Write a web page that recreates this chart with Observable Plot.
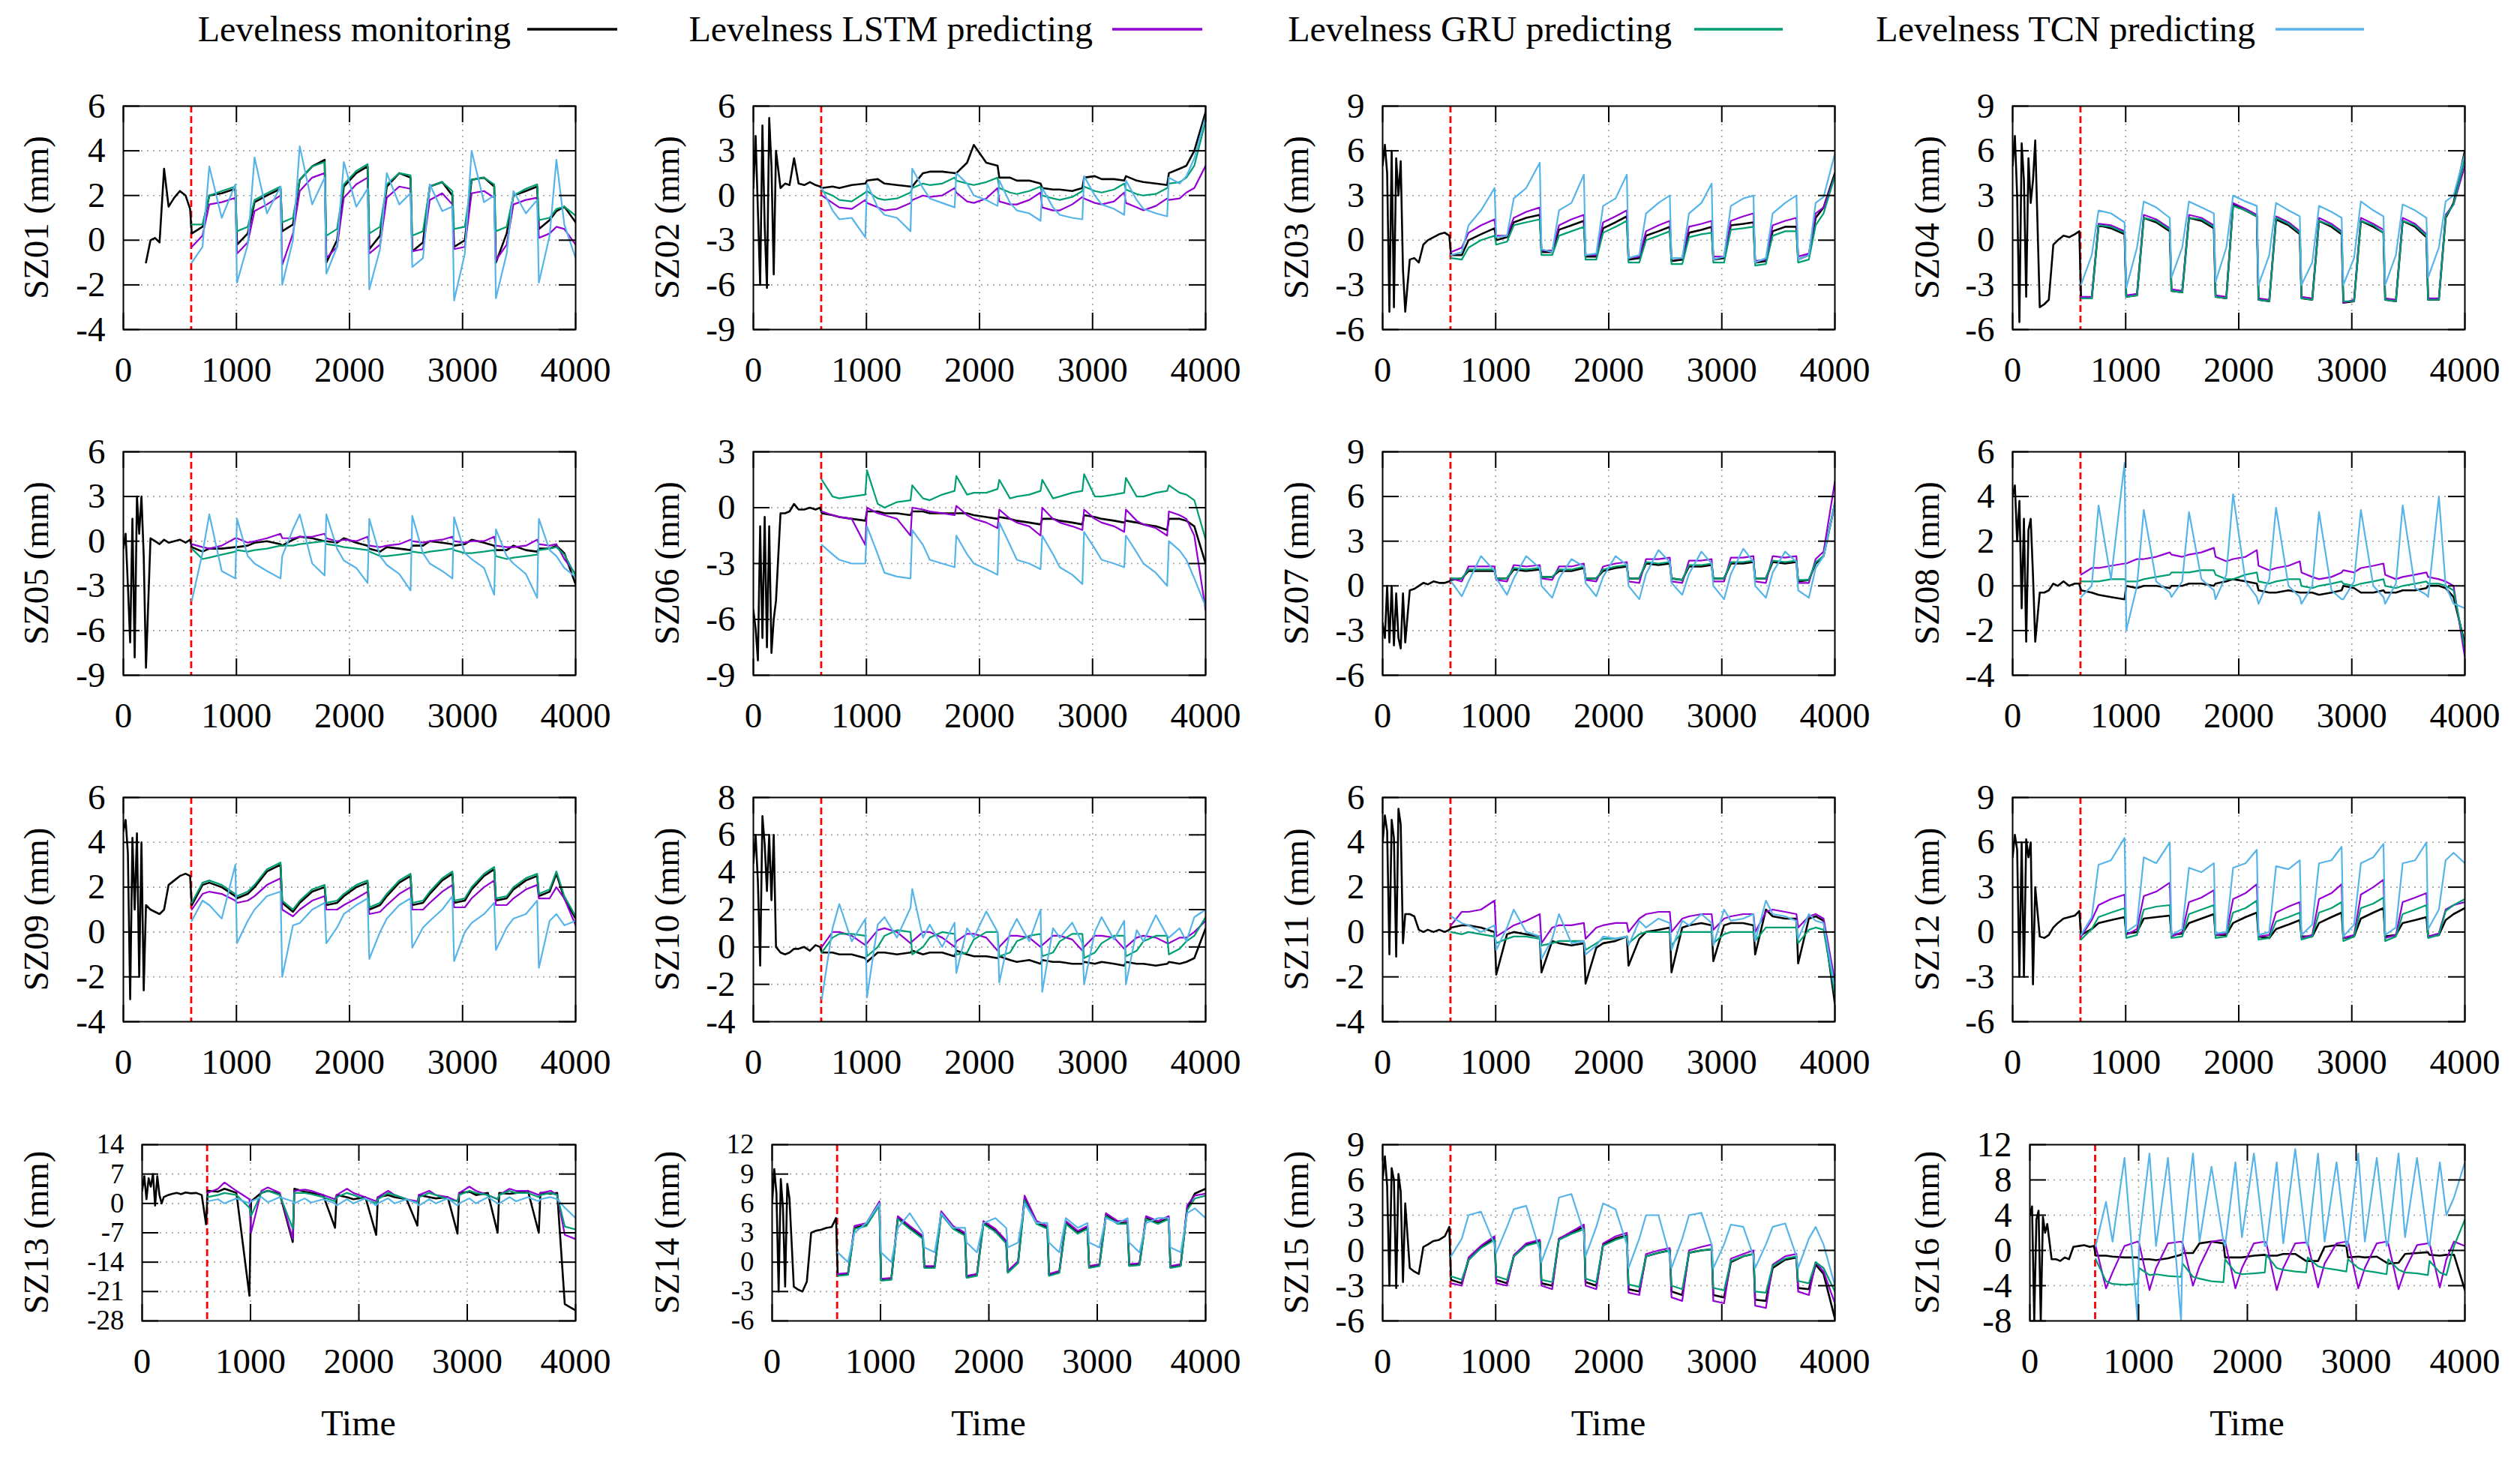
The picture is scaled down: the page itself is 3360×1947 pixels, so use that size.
<!DOCTYPE html>
<html><head><meta charset="utf-8">
<script src="https://cdn.jsdelivr.net/npm/d3@7"></script>
<script src="https://cdn.jsdelivr.net/npm/@observablehq/plot@0.6"></script>
<style>
html,body{margin:0;padding:0;background:#fff;}
#page{position:relative;width:3360px;height:1947px;overflow:hidden;background:#fff;font-family:'Liberation Serif','Times New Roman',serif;}
.pl{position:absolute;}
.pl svg{overflow:visible;}
#overlay{position:absolute;left:0;top:0;}
</style></head><body><div id="page"></div>
<script>
// ---------------- DATA ----------------
const xTicks = [0, 1000, 2000, 3000, 4000];
const tEarly = [0,20,40,60,80,100,120,140,160,180,200,240,280,320,360,400,450,500,550,590];
const tPred = [605,700,760,870,990, 1005,1100,1160,1270,1390, 1405,1500,1560,1670,1780, 1795,1890,1950,2060,2160,
  2175,2270,2330,2440,2540, 2555,2650,2710,2820,2910, 2925,3020,3080,3190,3280, 3295,3390,3450,3560,3660, 3675,3770,3830,3900,4000];

const SZ01_yTicks = [-4,-2,0,2,4,6];
const SZ01_mon = [null,null,null,null,null,null,null,null,null,null,-1.0,0.0,0.1,-0.1,3.2,1.5,1.9,2.2,2.0,1.4,
  0.3,0.6,2.0,2.1,2.3, -0.2,0.3,1.7,2.0,2.3, 0.4,0.7,2.7,3.3,3.6, -1.0,0.0,2.4,3.0,3.3, -0.4,0.2,2.4,3.0,2.8,
  -0.5,-0.1,2.4,2.6,2.0, -0.3,0.0,2.7,2.8,2.4, -1.0,0.3,2.0,2.2,2.4, 0.5,0.9,1.3,1.5,0.8];
const SZ01_lstm = [-0.3,0.2,1.6,1.7,1.9, -0.6,-0.1,1.3,1.6,2.0, -1.1,0.3,2.2,2.8,3.0, -0.8,-0.3,1.9,2.5,2.8, -0.6,-0.2,1.9,2.4,2.3, -0.5,-0.4,1.8,2.1,1.6, -0.4,-0.3,2.1,2.2,1.9, -0.9,-0.2,1.6,1.8,1.9, 0.1,0.3,0.6,0.5,-0.2];
const SZ01_gru = [0.7,0.7,2.0,2.2,2.4, 0.4,0.6,1.8,2.1,2.4, 0.8,1.0,2.7,3.3,3.5, 0.2,0.5,2.5,3.1,3.4, 0.3,0.6,2.5,3.0,2.9, 0.2,0.4,2.4,2.6,2.2, 0.5,0.6,2.7,2.8,2.5, 0.4,0.6,2.0,2.3,2.5, 0.9,1.0,1.4,1.5,1.1];
const SZ01_tcn = [-1.0,-0.3,3.3,1.0,2.5, -1.9,-0.2,3.7,1.2,2.4, -2.0,0.0,4.2,1.6,2.8, -1.5,-0.3,3.5,1.5,2.3, -2.2,-0.4,3.0,1.6,2.1, -1.2,-0.8,2.5,1.3,1.5, -2.7,-0.6,4.0,1.7,2.0, -2.6,-0.6,2.2,1.2,1.8, -1.9,0.2,3.6,0.7,-0.8];

const SZ02_yTicks = [-9,-6,-3,0,3,6];
const SZ02_mon = [0.5,4.0,-1.0,-6.0,4.7,-2.0,-6.2,5.2,2.0,-5.3,3.0,0.5,0.8,0.7,2.5,0.8,0.7,0.9,0.7,0.6,
  0.5,0.6,0.5,0.7,0.8, 1.0,1.1,0.8,0.7,0.6, 0.6,1.5,1.6,1.6,1.5, 1.5,2.2,3.4,2.2,2.0, 1.2,1.2,1.0,1.0,0.8,
  0.5,0.4,0.4,0.3,0.5, 1.2,1.3,1.1,1.1,1.0, 1.3,1.0,0.9,0.8,0.7, 1.5,1.8,2.0,3.0,5.6];
const SZ02_lstm = [0.0,-0.5,-0.8,-0.9,-0.3, -0.5,-0.8,-1.0,-0.9,-0.5, -0.3,0.0,-0.1,0.0,0.5, 0.2,-0.4,-0.5,-0.2,0.5, -0.4,-0.6,-0.6,-0.3,0.2, -0.8,-1.0,-1.0,-0.6,-0.1, -0.2,-0.5,-0.6,-0.4,0.2, -0.5,-0.8,-1.0,-0.7,-0.2, -0.3,-0.2,0.2,0.5,2.0];
const SZ02_gru = [0.3,0.0,-0.3,-0.4,0.2, 0.3,-0.2,-0.3,-0.2,0.2, 0.5,0.8,0.7,0.8,1.2, 1.0,0.8,0.7,0.9,1.2, 0.5,0.2,0.1,0.3,0.6, 0.0,-0.2,-0.3,-0.1,0.3, 0.6,0.3,0.2,0.4,0.8, 0.4,0.1,0.0,0.1,0.5, 0.8,0.9,1.2,2.0,5.0];
const SZ02_tcn = [0.5,-1.0,-1.6,-1.5,-2.8, 0.8,-0.8,-1.3,-1.5,-2.4, 1.8,0.5,-0.2,-0.5,-0.8, 1.5,0.8,0.0,-0.3,-0.7, 1.0,-0.5,-1.0,-1.2,-1.7, 0.5,-0.8,-1.3,-1.5,-1.6, 1.3,0.0,-0.6,-0.9,-1.3, 1.0,-0.3,-0.9,-1.2,-1.4, 1.2,0.8,1.3,2.5,5.3];

const SZ03_yTicks = [-6,-3,0,3,6,9];
const SZ03_mon = [5.0,6.4,4.5,-4.8,6.0,-4.5,5.5,3.0,5.3,-2.0,-4.8,-1.3,-1.2,-1.5,-0.3,0.0,0.2,0.4,0.5,0.3,
  -1.0,-1.0,0.0,0.4,0.8, 0.0,0.2,1.2,1.5,1.7, -0.8,-0.8,0.7,1.0,1.3, -1.1,-1.1,0.8,1.2,1.6, -1.3,-1.2,0.3,0.6,0.9,
  -1.4,-1.3,0.5,0.7,0.9, -1.3,-1.2,1.0,1.1,1.2, -1.5,-1.4,0.6,0.9,0.9, -1.3,-1.0,1.5,2.2,4.5];
const SZ03_lstm = [-0.8,-0.5,0.5,1.0,1.4, 0.3,0.3,1.5,1.9,2.2, -0.7,-0.7,1.0,1.4,1.7, -1.0,-1.0,1.2,1.6,2.0, -1.2,-1.1,0.6,1.0,1.3, -1.2,-1.2,0.9,1.1,1.3, -1.1,-1.1,1.3,1.6,1.8, -1.4,-1.3,1.0,1.3,1.5, -1.1,-0.9,1.8,2.2,4.3];
const SZ03_gru = [-1.2,-1.3,-0.5,0.0,0.3, -0.3,-0.1,1.0,1.2,1.4, -1.0,-1.0,0.3,0.6,0.9, -1.3,-1.3,0.5,0.9,1.3, -1.5,-1.5,0.0,0.3,0.6, -1.6,-1.6,0.2,0.4,0.5, -1.5,-1.5,0.7,0.8,0.9, -1.7,-1.6,0.3,0.6,0.6, -1.5,-1.3,1.0,1.8,4.3];
const SZ03_tcn = [-1.0,-0.8,1.0,2.0,3.5, 0.2,0.3,2.8,3.5,5.2, -0.6,-0.8,2.0,2.5,4.4, -1.0,-0.9,2.3,2.8,4.4, -1.2,-1.0,1.8,2.5,3.0, -1.2,-1.2,1.8,2.5,3.8, -1.3,-1.1,2.3,2.8,3.0, -1.5,-1.2,1.8,2.5,3.0, -1.3,-1.0,2.5,2.9,5.8];

const SZ04_yTicks = [-6,-3,0,3,6,9];
const SZ04_mon = [5.0,7.0,3.0,-5.5,6.5,4.0,-3.8,5.5,2.5,4.0,6.7,-4.5,-4.3,-4.0,-0.3,0.0,0.3,0.2,0.4,0.6,
  -3.9,-3.9,1.0,0.8,0.4, -3.8,-3.7,1.5,1.2,0.6, -3.4,-3.5,1.5,1.3,0.8, -3.8,-3.9,2.4,2.0,1.6, -4.0,-4.1,1.4,1.0,0.4,
  -3.9,-4.0,1.3,0.9,0.4, -4.2,-4.1,1.3,0.9,0.5, -4.0,-4.1,1.3,0.9,0.2, -4.0,-4.0,1.5,2.5,6.0];
const SZ04_lstm = [-3.8,-3.8,1.1,1.0,0.6, -3.7,-3.6,1.7,1.4,0.8, -3.3,-3.4,1.7,1.5,1.0, -3.7,-3.8,2.5,2.1,1.7, -3.9,-4.0,1.6,1.2,0.6, -3.8,-3.9,1.5,1.1,0.6, -4.2,-4.0,1.5,1.1,0.7, -3.9,-4.0,1.5,1.1,0.4, -3.9,-3.9,1.7,2.4,5.0];
const SZ04_gru = [-3.9,-3.9,1.0,0.9,0.5, -3.8,-3.7,1.5,1.3,0.7, -3.4,-3.5,1.5,1.4,0.9, -3.8,-3.9,2.3,2.0,1.6, -4.0,-4.1,1.5,1.1,0.5, -3.9,-4.0,1.3,1.0,0.5, -4.1,-4.1,1.3,1.0,0.5, -4.0,-4.1,1.3,1.0,0.3, -4.0,-4.0,1.6,2.4,5.5];
const SZ04_tcn = [-3.0,-1.0,2.0,1.8,1.2, -3.2,-0.5,2.6,2.2,1.5, -2.5,-0.5,2.6,2.2,1.8, -2.8,-0.5,3.0,2.6,2.3, -3.0,-1.0,2.5,2.0,1.6, -3.0,-1.5,2.3,1.9,1.5, -3.0,-1.2,2.6,2.0,1.6, -3.0,-1.0,2.4,2.0,1.5, -2.5,-0.5,2.6,3.0,5.8];

const SZ05_yTicks = [-9,-6,-3,0,3,6];
const SZ05_mon = [-0.5,0.5,-3.0,-6.8,1.5,-7.8,3.0,0.5,3.0,-1.0,-8.5,0.2,0.0,-0.2,0.1,-0.1,0.0,0.1,-0.1,0.1,
  -0.4,-0.7,-0.5,-0.5,-0.4, -0.4,-0.3,-0.1,0.0,-0.2, -0.3,0.1,0.3,0.2,0.0, 0.0,-0.1,0.2,-0.1,-0.3, -0.5,-0.7,-0.4,-0.5,-0.6,
  -0.3,-0.3,0.0,-0.1,-0.2, -0.3,-0.2,0.1,-0.1,-0.3, -0.6,-0.6,-0.3,-0.6,-0.7, -0.5,-0.5,-0.3,-0.8,-2.9];
const SZ05_lstm = [-0.2,-0.4,-0.5,-0.3,0.2, 0.2,-0.1,0.0,0.2,0.5, 0.2,0.2,0.3,0.3,0.5, 0.2,0.0,0.1,0.0,0.3, -0.3,-0.4,-0.3,-0.2,0.1, 0.0,-0.1,0.0,0.1,0.3, 0.0,-0.1,0.0,0.0,0.3, -0.3,-0.4,-0.4,-0.3,0.1, -0.2,-0.3,-0.2,-1.2,-2.2];
const SZ05_gru = [-0.5,-1.2,-1.1,-0.9,-0.7, -0.6,-0.7,-0.6,-0.5,-0.3, -0.3,-0.3,-0.2,-0.1,0.0, -0.2,-0.3,-0.4,-0.5,-0.6, -0.7,-1.0,-1.0,-0.9,-0.8, -0.7,-0.8,-0.7,-0.6,-0.5, -0.6,-0.8,-0.8,-0.7,-0.6, -1.0,-1.2,-1.1,-1.0,-0.9, -0.6,-0.5,-0.4,-0.9,-2.3];
const SZ05_tcn = [-4.0,-0.8,1.8,-2.0,-2.5, 1.5,-1.0,-1.5,-2.0,-2.5, -1.0,0.8,1.8,-1.5,-2.3, 1.8,-0.5,-1.3,-1.8,-2.8, 1.5,-1.0,-1.6,-2.2,-3.3, 1.7,-0.8,-1.5,-2.0,-2.5, 1.6,-0.8,-1.2,-1.8,-3.6, 0.8,-1.0,-1.5,-2.2,-3.8, 1.5,-0.6,-1.0,-1.8,-2.4];

const SZ06_yTicks = [-9,-6,-3,0,3];
const SZ06_mon = [-5.5,-6.5,-8.2,-1.0,-7.0,-0.5,-7.5,-1.0,-7.8,-6.0,-5.0,-0.3,-0.3,-0.2,0.2,-0.1,-0.1,0.0,-0.1,0.0,
  -0.3,-0.4,-0.5,-0.6,-0.7, -0.2,-0.2,-0.3,-0.3,-0.4, -0.2,-0.2,-0.3,-0.3,-0.3, -0.3,-0.3,-0.4,-0.5,-0.6, -0.5,-0.6,-0.7,-0.8,-0.9,
  -0.6,-0.6,-0.7,-0.8,-0.9, -0.4,-0.5,-0.6,-0.7,-0.8, -0.7,-0.8,-0.9,-1.0,-1.2, -0.6,-0.6,-0.7,-1.0,-3.0];
const SZ06_lstm = [-0.2,-0.4,-0.5,-0.6,-2.0, 0.0,-0.3,-0.4,-0.6,-1.5, 0.0,-0.1,-0.2,-0.3,-0.4, 0.1,-0.4,-0.6,-0.8,-1.1, -0.1,-0.6,-0.8,-1.0,-1.5, 0.0,-0.6,-0.8,-1.0,-1.2, -0.1,-0.6,-0.8,-1.0,-1.3, -0.1,-0.7,-0.9,-1.1,-1.5, -0.2,-0.4,-0.6,-1.5,-5.5];
const SZ06_gru = [1.5,0.6,0.5,0.6,0.7, 2.0,0.2,0.0,0.3,0.4, 1.2,0.5,0.4,0.7,0.9, 1.7,0.7,0.8,0.8,1.0, 1.5,0.5,0.6,0.7,0.9, 1.5,0.5,0.6,0.8,0.9, 1.8,0.6,0.6,0.7,0.8, 1.6,0.6,0.6,0.8,0.9, 1.2,0.8,0.7,0.4,-1.7];
const SZ06_tcn = [-2.0,-2.5,-2.8,-3.0,-3.0, -1.0,-2.5,-3.5,-3.7,-3.8, -1.2,-2.0,-2.8,-3.0,-3.2, -1.5,-2.5,-3.0,-3.3,-3.6, -0.8,-2.0,-2.8,-3.0,-3.3, -1.5,-2.5,-3.2,-3.6,-4.1, -1.3,-2.2,-2.8,-3.0,-3.2, -1.5,-2.4,-3.0,-3.5,-4.2, -1.8,-2.3,-2.8,-3.8,-5.3];

const SZ07_yTicks = [-6,-3,0,3,6,9];
const SZ07_mon = [-2.5,-3.5,0.0,-3.8,0.0,-4.0,-0.5,-3.5,-4.2,-0.5,-3.8,-0.3,-0.2,0.0,0.2,0.1,0.3,0.2,0.2,0.3,
  0.4,0.5,1.0,1.0,1.0, 0.5,0.5,1.1,1.0,1.1, 0.6,0.6,1.0,1.0,1.2, 0.5,0.5,1.0,1.2,1.3, 0.5,0.5,1.5,1.4,1.5,
  0.5,0.4,1.3,1.3,1.4, 0.5,0.5,1.5,1.5,1.6, 0.5,0.5,1.6,1.5,1.6, 0.3,0.4,1.5,2.0,5.5];
const SZ07_lstm = [0.5,0.3,1.3,1.3,1.3, 0.4,0.3,1.4,1.3,1.4, 0.5,0.4,1.3,1.3,1.5, 0.4,0.3,1.3,1.5,1.6, 0.3,0.2,1.8,1.8,1.9, 0.3,0.2,1.7,1.7,1.8, 0.3,0.3,1.9,1.9,2.0, 0.3,0.2,2.0,1.9,2.0, 0.2,0.2,1.8,2.3,7.0];
const SZ07_gru = [0.5,0.5,1.1,1.1,1.1, 0.5,0.5,1.2,1.1,1.2, 0.6,0.6,1.1,1.1,1.3, 0.5,0.5,1.1,1.3,1.4, 0.5,0.5,1.6,1.5,1.6, 0.5,0.4,1.4,1.4,1.5, 0.5,0.5,1.6,1.6,1.7, 0.5,0.5,1.7,1.6,1.7, 0.4,0.4,1.6,2.0,5.6];
const SZ07_tcn = [0.3,-0.7,0.3,2.0,1.0, 0.5,-0.6,0.5,2.0,1.2, 0.0,-0.8,0.5,1.8,1.3, 0.2,-0.7,0.6,2.0,1.4, 0.0,-0.9,0.8,2.4,1.6, 0.2,-0.6,0.8,2.3,1.5, 0.0,-0.9,0.8,2.5,1.6, 0.0,-0.8,0.9,2.3,1.6, -0.3,-0.8,1.2,2.0,5.5];

const SZ08_yTicks = [-4,-2,0,2,4,6];
const SZ08_mon = [4.0,4.5,2.0,3.8,-1.0,3.0,-2.5,2.5,3.0,0.5,-2.5,-0.3,-0.3,-0.2,0.1,0.0,0.2,0.0,0.1,0.1,
  -0.2,-0.3,-0.4,-0.5,-0.6, 0.0,-0.1,0.0,0.0,-0.1, 0.0,0.0,0.1,0.1,0.0, 0.1,0.2,0.3,0.2,0.1, -0.2,-0.3,-0.3,-0.2,-0.3,
  -0.3,-0.3,-0.4,-0.3,-0.2, 0.0,-0.1,-0.3,-0.3,-0.2, -0.3,-0.3,-0.2,-0.2,-0.1, 0.0,0.0,-0.1,-0.5,-2.6];
const SZ08_lstm = [0.5,0.8,0.8,0.9,1.0, 1.0,1.2,1.2,1.3,1.5, 1.4,1.3,1.4,1.5,1.7, 1.3,1.1,1.2,1.3,1.6, 0.9,0.7,0.8,0.9,1.1, 0.6,0.4,0.3,0.4,0.6, 0.7,0.6,0.8,0.9,1.0, 0.5,0.3,0.4,0.5,0.6, 0.4,0.3,0.2,0.0,-3.2];
const SZ08_gru = [0.2,0.2,0.2,0.3,0.3, 0.2,0.2,0.3,0.4,0.5, 0.6,0.6,0.6,0.7,0.7, 0.5,0.3,0.3,0.5,0.6, 0.2,0.1,0.2,0.3,0.3, 0.0,-0.1,0.0,0.1,0.2, 0.1,0.0,0.1,0.2,0.3, 0.0,-0.1,0.0,0.1,0.2, 0.1,0.1,0.0,-0.2,-2.8];
const SZ08_tcn = [-0.5,0.0,3.6,0.3,5.5, -2.0,0.0,3.4,0.2,-0.3, -0.5,0.2,3.3,0.3,-0.2, -0.6,0.5,4.1,0.2,-0.5, -0.8,0.3,3.5,0.0,-0.5, -0.8,0.0,3.3,-0.2,-0.6, -0.6,0.2,3.4,0.0,-0.5, -0.8,0.1,3.6,-0.1,-0.4, -0.5,4.0,0.0,-0.8,-1.0];

const SZ09_yTicks = [-4,-2,0,2,4,6];
const SZ09_mon = [4.5,5.0,3.5,-3.0,4.2,1.0,4.4,-2.0,4.0,-2.6,1.2,1.0,0.9,0.8,1.0,2.1,2.3,2.5,2.6,2.5,
  1.2,2.1,2.2,2.0,1.6, 1.5,1.7,2.0,2.7,3.0, 1.3,0.9,1.3,1.8,2.0, 1.2,1.3,1.6,2.0,2.2, 1.0,1.2,1.6,2.2,2.5,
  1.2,1.3,1.7,2.3,2.6, 1.3,1.4,1.9,2.5,2.8, 1.4,1.5,1.9,2.3,2.5, 1.6,1.8,2.6,1.5,0.6];
const SZ09_lstm = [1.0,1.7,1.8,1.7,1.4, 1.3,1.4,1.6,2.1,2.4, 1.0,0.7,1.0,1.4,1.6, 1.0,1.0,1.2,1.5,1.8, 0.8,0.9,1.2,1.7,2.0, 1.0,1.0,1.3,1.8,2.1, 1.1,1.1,1.5,2.0,2.3, 1.2,1.2,1.5,1.9,2.1, 1.5,1.5,2.0,1.5,0.3];
const SZ09_gru = [1.3,2.2,2.3,2.1,1.7, 1.6,1.8,2.1,2.8,3.1, 1.4,1.0,1.4,1.9,2.1, 1.3,1.4,1.7,2.1,2.3, 1.1,1.3,1.7,2.3,2.6, 1.3,1.4,1.8,2.4,2.7, 1.4,1.5,2.0,2.6,2.9, 1.5,1.6,2.0,2.4,2.6, 1.7,1.9,2.7,1.6,0.7];
const SZ09_tcn = [0.5,1.4,1.2,0.6,3.0, -0.5,0.5,1.0,1.6,1.8, -2.0,0.3,0.4,1.0,1.3, -0.5,0.2,0.8,1.2,1.5, -1.2,0.0,0.6,1.2,1.5, -0.7,0.2,0.5,1.0,1.6, -1.3,0.0,0.4,0.8,1.3, -0.8,0.2,0.6,0.8,1.4, -1.6,0.5,0.8,0.3,0.5];

const SZ10_yTicks = [-4,-2,0,2,4,6,8];
const SZ10_mon = [4.5,6.0,3.5,-1.0,7.0,5.5,3.0,6.0,2.5,6.0,0.0,-0.3,-0.4,-0.3,-0.1,-0.1,0.0,-0.2,0.1,0.0,
  -0.3,-0.3,-0.4,-0.4,-0.6, -0.8,-0.3,-0.3,-0.4,-0.3, -0.2,-0.4,-0.3,-0.3,-0.5, -0.2,-0.4,-0.5,-0.5,-0.6, -0.5,-0.7,-0.8,-0.7,-0.9,
  -0.7,-0.8,-0.8,-0.9,-0.9, -0.8,-0.9,-0.8,-0.9,-1.0, -0.8,-0.9,-0.9,-1.0,-0.9, -0.8,-0.9,-0.8,-0.6,1.0];
const SZ10_lstm = [0.0,0.8,0.8,0.6,0.1, 0.2,0.9,1.0,0.8,0.2, 0.3,0.8,0.8,0.5,0.0, 0.3,0.7,0.7,0.5,-0.2, 0.0,0.6,0.6,0.5,0.0, 0.1,0.6,0.6,0.4,-0.2, 0.0,0.6,0.6,0.5,-0.1, 0.0,0.5,0.6,0.5,0.2, 0.2,0.5,0.5,0.8,1.4];
const SZ10_gru = [-0.3,0.5,0.7,0.7,0.6, -0.5,0.0,0.6,0.9,0.8, -0.4,0.0,0.5,0.8,0.7, -0.4,-0.3,0.4,0.8,0.8, -0.5,-0.3,0.3,0.6,0.7, -0.5,-0.3,0.3,0.7,0.7, -0.6,-0.3,0.2,0.6,0.6, -0.5,-0.2,0.3,0.6,0.6, -0.4,-0.1,0.3,0.6,1.6];
const SZ10_tcn = [-2.8,1.0,2.3,0.3,1.5, -2.7,1.2,1.6,0.5,2.1, 3.1,0.5,1.2,0.0,1.3, -1.4,1.0,0.5,1.9,0.8, -1.9,0.8,1.5,0.3,2.0, -2.4,1.0,0.5,1.3,0.2, -2.0,0.8,1.6,0.4,1.4, -2.0,0.9,0.3,1.7,0.6, 0.5,1.0,0.3,1.6,2.0];

const SZ11_yTicks = [-4,-2,0,2,4,6];
const SZ11_mon = [4.0,5.2,4.5,-1.0,5.0,4.2,-1.1,5.5,4.8,-0.5,0.8,0.8,0.7,0.1,0.0,0.1,0.0,0.1,0.0,0.1,
  0.2,0.3,0.3,0.2,0.0, -1.9,-0.1,0.0,-0.1,-0.2, -1.8,-0.4,-0.5,-0.6,-0.5, -2.3,-0.7,-0.5,-0.4,-0.2, -1.5,-0.3,0.0,0.1,0.2,
  -1.8,0.2,0.3,0.4,0.3, -1.3,0.3,0.4,0.4,0.3, -1.0,1.0,0.7,0.6,0.6, -1.4,0.6,0.7,0.5,-3.2];
const SZ11_lstm = [0.3,0.9,0.9,1.0,1.4, -0.2,0.1,0.3,0.5,0.8, -0.5,0.2,0.3,0.3,0.4, -0.3,0.2,0.3,0.4,0.4, 0.0,0.6,0.8,0.9,0.9, 0.0,0.6,0.7,0.8,0.8, 0.1,0.6,0.7,0.8,0.8, 0.0,0.9,1.0,0.9,0.8, 0.2,0.7,0.8,0.6,-2.2];
const SZ11_gru = [0.0,-0.1,0.0,-0.1,-0.2, -0.5,-0.3,-0.2,-0.2,-0.3, -0.6,-0.5,-0.4,-0.4,-0.4, -0.8,-0.5,-0.3,-0.3,-0.2, -0.5,-0.1,0.0,0.0,0.0, -0.6,0.0,0.0,0.0,0.0, -0.5,-0.1,0.0,0.0,0.0, -0.4,0.2,0.2,0.2,0.2, -0.5,0.1,0.2,0.1,-2.8];
const SZ11_tcn = [0.7,0.4,0.3,0.0,0.3, -0.8,0.2,1.0,0.0,-0.2, -1.2,-0.3,0.8,-0.5,-0.4, -1.0,-0.6,-0.2,-0.3,-0.2, -0.6,0.5,0.2,0.6,0.4, -0.8,0.5,0.3,0.8,0.4, -0.6,1.0,0.5,0.6,0.8, -0.4,1.4,0.8,0.7,0.5, -0.3,0.8,0.5,0.4,-2.5];

const SZ12_yTicks = [-6,-3,0,3,6,9];
const SZ12_mon = [5.0,6.5,5.5,-3.0,6.0,-3.0,6.2,5.0,6.0,-3.5,3.0,-0.3,-0.4,-0.2,0.3,0.6,0.9,1.0,1.1,1.4,
  -0.2,0.2,0.6,0.8,1.0, -0.1,0.0,0.9,1.0,1.1, -0.2,-0.1,0.6,0.9,1.2, -0.2,-0.2,0.6,1.0,1.3, -0.3,-0.4,0.2,0.5,0.8,
  -0.3,-0.3,0.6,1.0,1.3, -0.4,-0.3,0.9,1.3,1.6, -0.3,-0.2,0.6,0.8,1.0, -0.3,-0.2,0.8,1.2,1.6];
const SZ12_lstm = [-0.3,0.8,1.8,2.2,2.5, -0.2,0.2,2.4,2.7,3.3, -0.3,0.0,2.0,2.3,2.8, -0.2,-0.1,2.2,2.6,3.2, -0.3,-0.2,1.3,1.7,2.0, -0.4,-0.2,2.2,2.6,3.2, -0.4,-0.2,2.5,3.0,3.5, -0.4,-0.2,2.0,2.3,2.6, -0.3,-0.1,1.5,1.8,2.0];
const SZ12_gru = [-0.5,0.2,1.0,1.3,1.6, -0.4,-0.2,1.5,1.7,1.8, -0.4,-0.3,1.2,1.5,1.8, -0.4,-0.3,1.3,1.6,2.1, -0.5,-0.4,0.7,1.0,1.3, -0.5,-0.3,1.3,1.6,2.0, -0.6,-0.3,1.6,1.9,2.3, -0.6,-0.3,1.2,1.5,1.8, -0.4,-0.2,1.4,1.8,2.2];
const SZ12_tcn = [-0.2,1.0,4.5,4.8,6.3, 0.0,0.5,5.0,4.6,6.0, -0.2,0.2,4.3,4.0,4.6, -0.1,0.0,4.3,4.6,5.5, -0.2,0.0,4.4,4.2,4.8, -0.2,0.5,4.6,4.8,5.7, -0.3,0.5,4.6,5.0,5.9, -0.2,0.3,4.6,4.8,6.0, 0.2,1.5,4.8,5.3,4.6];

const SZ13_yTicks = [-28,-21,-14,-7,0,7,14];
const SZ13_mon = [3.0,6.5,1.0,6.0,4.0,7.0,-0.5,6.5,2.0,0.0,1.5,2.0,2.3,2.5,2.2,2.6,2.4,2.5,2.0,-5.0,
  3.0,2.8,3.5,2.5,-22.0, 0.5,2.5,3.0,2.3,-9.2, 3.5,2.8,2.5,2.0,-5.8, 2.0,1.5,1.0,1.5,-7.5, 1.5,2.0,1.5,1.0,-5.3,
  2.0,1.5,1.2,1.5,-7.2, 2.5,2.8,2.0,2.5,-7.0, 2.5,2.3,2.5,3.0,-7.0, 2.5,2.3,2.5,-24.0,-25.5];
const SZ13_lstm = [2.5,3.5,5.0,3.0,1.0, -7.0,3.0,3.8,2.5,-8.5, 3.0,3.3,3.0,2.0,1.0, 2.0,3.5,2.5,1.5,0.5, 1.5,3.0,2.0,1.0,0.5, 2.0,3.0,2.0,1.5,0.5, 2.5,4.0,3.0,2.0,1.0, 2.0,3.5,3.0,3.0,2.0, 2.5,3.0,2.0,-7.5,-8.5];
const SZ13_gru = [1.5,2.0,2.5,2.0,-1.0, -3.0,2.5,3.0,2.0,-6.0, 2.5,2.5,2.2,1.5,0.5, 1.5,2.5,2.0,1.0,0.0, 1.0,2.5,2.0,1.0,0.0, 1.5,2.5,2.0,1.0,0.5, 2.0,3.0,2.5,2.0,1.0, 2.0,3.0,2.5,2.5,1.5, 2.0,2.5,2.0,-5.5,-6.2];
const SZ13_tcn = [0.5,1.0,0.0,1.2,0.0, 0.5,1.5,0.3,1.5,0.5, 0.0,1.2,0.2,1.0,0.0, -0.5,1.0,0.0,1.2,-0.5, 0.0,1.2,0.0,1.0,0.0, -0.5,1.0,0.0,1.2,-0.5, 0.0,1.2,0.0,1.5,0.0, 0.0,1.5,0.5,1.5,0.5, 1.0,1.5,1.0,-1.0,-3.5];

const SZ14_yTicks = [-6,-3,0,3,6,9,12];
const SZ14_mon = [6.0,9.5,7.0,-3.0,8.5,5.5,-2.5,8.0,6.5,2.0,-2.5,-2.8,-3.0,-2.0,3.0,3.2,3.3,3.5,3.6,4.5,
  -1.3,-1.2,3.5,3.8,6.0, -1.8,-1.7,4.5,3.5,2.5, -0.5,-0.5,5.0,3.5,2.8, -1.5,-1.3,4.0,3.2,2.0, -1.0,0.0,6.5,4.0,3.5,
  -1.3,-1.0,4.0,3.0,3.5, -0.5,-0.3,4.8,4.0,4.0, -0.3,-0.2,4.5,4.0,4.5, -0.5,-0.3,5.5,7.0,7.5];
const SZ14_lstm = [-1.2,-1.1,3.7,4.0,6.2, -1.7,-1.6,4.7,3.7,2.7, -0.4,-0.4,5.2,3.7,3.0, -1.4,-1.2,4.2,3.4,2.2, -0.9,0.1,6.8,4.2,3.7, -1.2,-0.9,4.2,3.2,3.7, -0.4,-0.2,5.0,4.2,4.2, -0.2,-0.1,4.7,4.2,4.7, -0.4,-0.2,5.8,6.8,7.0];
const SZ14_gru = [-1.4,-1.3,3.4,3.7,5.8, -1.9,-1.8,4.4,3.4,2.4, -0.6,-0.6,4.9,3.4,2.7, -1.6,-1.4,3.9,3.1,1.9, -1.1,-0.1,6.3,3.9,3.4, -1.4,-1.1,3.9,2.9,3.4, -0.6,-0.4,4.7,3.9,3.9, -0.4,-0.3,4.4,3.9,4.4, -0.6,-0.4,5.3,6.5,6.8];
const SZ14_tcn = [1.0,0.0,3.0,4.0,6.0, 1.0,0.0,3.5,5.0,3.0, 1.5,1.0,5.0,3.5,3.5, 2.0,1.0,4.0,4.5,3.5, 1.5,2.0,6.0,4.0,4.0, 2.0,1.0,4.5,3.5,4.0, 2.0,1.5,4.5,4.0,4.5, 2.0,1.0,4.0,4.5,4.5, 1.5,1.0,5.0,5.5,4.5];

const SZ15_yTicks = [-6,-3,0,3,6,9];
const SZ15_mon = [6.0,8.0,5.5,-3.0,7.0,6.0,-3.2,6.5,5.0,-2.7,4.0,-1.5,-1.8,-2.0,0.3,0.5,0.8,0.9,1.2,2.0,
  -2.5,-2.8,-0.8,0.3,1.0, -2.5,-2.8,-0.5,0.5,0.8, -2.8,-3.0,1.0,1.5,2.0, -2.7,-3.0,0.5,1.0,1.3, -3.3,-3.5,-0.5,-0.2,0.0,
  -3.5,-3.8,-0.2,0.0,0.1, -3.8,-4.0,-1.0,-0.5,-0.3, -4.2,-4.3,-1.5,-0.8,-0.6, -3.2,-3.3,-1.2,-2.0,-5.8];
const SZ15_lstm = [-2.8,-3.0,-0.6,0.4,1.2, -2.8,-3.0,-0.4,0.6,0.9, -3.0,-3.3,1.0,1.6,2.2, -3.0,-3.3,0.6,1.2,1.5, -3.6,-3.8,-0.3,0.0,0.2, -4.0,-4.3,0.0,0.3,0.5, -4.3,-4.5,-0.7,-0.3,0.0, -4.7,-4.9,-1.2,-0.5,-0.3, -3.5,-3.8,-1.0,-1.8,-4.5];
const SZ15_gru = [-2.2,-2.5,-0.8,0.2,0.9, -2.2,-2.5,-0.5,0.4,0.7, -2.5,-2.7,0.9,1.4,1.8, -2.4,-2.7,0.4,0.9,1.2, -2.9,-3.1,-0.5,-0.2,0.0, -3.0,-3.3,-0.2,0.0,0.1, -3.2,-3.4,-0.9,-0.5,-0.3, -3.5,-3.6,-1.3,-0.7,-0.5, -2.6,-2.8,-1.0,-1.5,-3.5];
const SZ15_tcn = [-0.5,1.0,3.0,3.3,0.5, -0.2,2.0,3.5,3.8,0.0, -1.0,1.5,4.5,4.8,1.5, -0.5,2.0,4.0,3.5,0.5, -1.5,1.0,3.0,3.0,-0.5, -1.5,1.0,3.0,3.2,0.5, -1.5,0.5,2.2,2.0,-0.5, -1.5,0.5,2.0,2.3,-0.5, -1.5,1.0,2.0,0.5,-3.0];

const SZ16_yTicks = [-8,-4,0,4,8,12];
const SZ16_mon = [4.0,5.0,-8.0,3.5,4.5,-8.0,3.8,2.0,3.0,1.0,-1.0,-1.0,-1.2,-0.8,-1.0,0.4,0.5,0.6,0.4,0.5,
  -0.6,-0.6,-0.7,-0.8,-0.8, -1.0,-1.0,-1.1,-0.9,-0.5, -0.3,-0.3,0.8,1.0,0.8, -0.8,-0.8,-0.8,-0.6,-0.5, -0.6,-0.6,-0.4,-0.4,-1.2,
  -1.2,-1.2,0.4,0.6,0.5, -0.8,-0.7,-0.8,-0.7,-1.4, -1.5,-1.4,-0.4,-0.3,-0.2, -0.5,-0.6,-0.5,-0.5,-4.5];
const SZ16_lstm = [0.5,-4.3,-2.5,0.5,1.0, 0.8,-4.5,-2.0,0.8,1.0, 0.8,-4.0,-1.8,1.0,1.2, 1.0,-4.3,-2.0,0.8,1.0, 0.8,-4.5,-2.0,0.8,0.9, 0.8,-4.2,-1.5,0.8,1.0, 1.0,-4.3,-2.0,0.8,1.0, 0.8,-4.4,-2.2,0.6,0.8, 0.8,-4.2,-1.0,1.0,0.5];
const SZ16_gru = [-1.0,-3.5,-3.8,-3.9,-3.8, -2.0,-2.8,-2.7,-2.9,-3.0, -1.5,-3.0,-3.2,-3.5,-3.6, -1.0,-2.5,-2.7,-2.6,-2.5, -0.5,-2.0,-2.2,-2.4,-2.5, -0.8,-1.8,-2.0,-2.2,-2.4, -1.0,-2.0,-2.3,-2.5,-2.7, -1.0,-2.2,-2.5,-2.6,-2.8, -1.2,-2.5,-2.8,0.5,3.5];
const SZ16_tcn = [0.5,5.5,1.0,10.5,-8.0, 1.0,11.0,0.5,10.5,-8.0, 1.0,11.0,1.0,9.5,1.0, 0.5,10.0,1.5,11.0,0.5, 0.5,10.0,0.8,11.5,1.0, 0.5,11.0,1.0,10.0,0.5, 0.8,11.0,1.0,10.5,0.5, 1.0,11.0,1.5,10.5,1.0, 0.5,10.0,4.0,6.0,10.0];

const splitTime = [600];
const seriesNames = ["Levelness monitoring", "Levelness LSTM predicting", "Levelness GRU predicting", "Levelness TCN predicting"];
const panelNames = ["SZ01","SZ02","SZ03","SZ04","SZ05","SZ06","SZ07","SZ08","SZ09","SZ10","SZ11","SZ12","SZ13","SZ14","SZ15","SZ16"];

// ---------------- TABLE ----------------
const panels = [
  [SZ01_yTicks, SZ01_mon, SZ01_lstm, SZ01_gru, SZ01_tcn],
  [SZ02_yTicks, SZ02_mon, SZ02_lstm, SZ02_gru, SZ02_tcn],
  [SZ03_yTicks, SZ03_mon, SZ03_lstm, SZ03_gru, SZ03_tcn],
  [SZ04_yTicks, SZ04_mon, SZ04_lstm, SZ04_gru, SZ04_tcn],
  [SZ05_yTicks, SZ05_mon, SZ05_lstm, SZ05_gru, SZ05_tcn],
  [SZ06_yTicks, SZ06_mon, SZ06_lstm, SZ06_gru, SZ06_tcn],
  [SZ07_yTicks, SZ07_mon, SZ07_lstm, SZ07_gru, SZ07_tcn],
  [SZ08_yTicks, SZ08_mon, SZ08_lstm, SZ08_gru, SZ08_tcn],
  [SZ09_yTicks, SZ09_mon, SZ09_lstm, SZ09_gru, SZ09_tcn],
  [SZ10_yTicks, SZ10_mon, SZ10_lstm, SZ10_gru, SZ10_tcn],
  [SZ11_yTicks, SZ11_mon, SZ11_lstm, SZ11_gru, SZ11_tcn],
  [SZ12_yTicks, SZ12_mon, SZ12_lstm, SZ12_gru, SZ12_tcn],
  [SZ13_yTicks, SZ13_mon, SZ13_lstm, SZ13_gru, SZ13_tcn],
  [SZ14_yTicks, SZ14_mon, SZ14_lstm, SZ14_gru, SZ14_tcn],
  [SZ15_yTicks, SZ15_mon, SZ15_lstm, SZ15_gru, SZ15_tcn],
  [SZ16_yTicks, SZ16_mon, SZ16_lstm, SZ16_gru, SZ16_tcn]
].map((a, i) => ({name: panelNames[i], yTicks: a[0], mon: a[1], lstm: a[2], gru: a[3], tcn: a[4]}));

// ---------------- LAYOUT / STYLE ----------------
const COLORS = ["#000000", "#9400D3", "#009E73", "#56B4E9"];
const WIDTHS = [2.6, 2.2, 2.2, 2.2];
const FONT = "'Liberation Serif','Times New Roman',serif";
const rowTop = [141, 602, 1063, 1526];
const rowBottom = [439, 900, 1362, 1761];
const colLeft = [164, 1004, 1843, 2683];
const colLeft4 = [189, 1029, 1843, 2706];
const colRight = [767, 1607, 2446, 3286];
const ylabX = [48, 889, 1728, 2569];

const page = document.getElementById("page");
const tMon = tEarly.concat(tPred);
const rows = (ts, vs) => ts.map((t, j) => ({t, v: vs[j]}));

panels.forEach((p, i) => {
  const r = Math.floor(i / 4), c = i % 4;
  const top = rowTop[r], bottom = rowBottom[r];
  const left = (r === 3 ? colLeft4 : colLeft)[c], right = colRight[c];
  const W = right - left, H = bottom - top;
  const ML = 160, MR = 12, MT = 30, MB = 100;
  const yt = p.yTicks;
  const dom = [yt[0], yt[yt.length - 1]];
  const sets = [rows(tMon, p.mon), rows(tPred, p.lstm), rows(tPred, p.gru), rows(tPred, p.tcn)];
  const TL = 22;
  const svg = Plot.plot({
    width: W + ML + MR, height: H + MT + MB,
    marginLeft: ML, marginRight: MR, marginTop: MT, marginBottom: MB,
    style: {fontFamily: FONT, fontSize: "47px", color: "black", background: "transparent", overflow: "visible"},
    x: {domain: [0, 4000], ticks: xTicks, tickSize: 0, tickPadding: 36, tickFormat: d => String(d), label: null},
    y: {domain: dom, ticks: yt, tickSize: 0, tickPadding: 24, tickFormat: d => String(d), label: null},
    marks: [
      Plot.gridY(yt.slice(1, -1), {stroke: "#a0a0a0", strokeOpacity: 1, strokeWidth: 1.6, strokeDasharray: "2,6"}),
      Plot.gridX(xTicks.slice(1, -1), {stroke: "#a0a0a0", strokeOpacity: 1, strokeWidth: 1.6, strokeDasharray: "2,6"}),
      Plot.ruleX(splitTime, {stroke: "#ff0000", strokeWidth: 2.8, strokeDasharray: "9,5"}),
      ...sets.map((d, k) => Plot.line(d, {x: "t", y: "v", stroke: COLORS[k], strokeWidth: WIDTHS[k], clip: true, strokeLinejoin: "round"})),
      Plot.tickY(yt, {y: d => d, stroke: "black", strokeWidth: 2, insetRight: W - TL}),
      Plot.tickY(yt, {y: d => d, stroke: "black", strokeWidth: 2, insetLeft: W - TL}),
      Plot.tickX(xTicks, {x: d => d, stroke: "black", strokeWidth: 2, insetTop: H - TL}),
      Plot.tickX(xTicks, {x: d => d, stroke: "black", strokeWidth: 2, insetBottom: H - TL}),
      Plot.frame({stroke: "black", strokeWidth: 2})
    ]
  });
  const s = d3.select(svg);
  s.attr("font-family", FONT);
  s.selectAll("text").attr("font-family", FONT).style("font-family", FONT);
  // tightly spaced y ticks get a smaller font so the labels do not collide
  const spacing = H / (yt.length - 1);
  if (spacing < 45) {
    s.selectAll('g[aria-label="y-axis tick label"] text').attr("font-size", 37).style("font-size", "37px");
  }
  const div = document.createElement("div");
  div.className = "pl";
  div.style.left = (left - ML) + "px";
  div.style.top = (top - MT) + "px";
  div.appendChild(svg);
  page.appendChild(div);
});

// ---------------- LEGEND & LABELS ----------------
const ov = d3.select(page).append("svg").attr("id", "overlay")
  .attr("width", 3360).attr("height", 1947)
  .style("font-family", FONT);
const legPos = [[681, 703, 823], [1457, 1483, 1603], [2229, 2259, 2377], [3007, 3034, 3152]];
seriesNames.forEach((s, k) => {
  const [tx, x1, x2] = legPos[k];
  ov.append("text").attr("x", tx).attr("y", 55).attr("text-anchor", "end")
    .attr("font-size", 48).attr("fill", "black").text(s);
  ov.append("line").attr("x1", x1).attr("x2", x2).attr("y1", 39).attr("y2", 39)
    .attr("stroke", COLORS[k]).attr("stroke-width", 3.5);
});
panels.forEach((p, i) => {
  const r = Math.floor(i / 4), c = i % 4;
  const cy = (rowTop[r] + rowBottom[r]) / 2;
  ov.append("text").attr("transform", `translate(${ylabX[c]},${cy}) rotate(-90)`)
    .attr("text-anchor", "middle").attr("dy", "0.35em")
    .attr("font-size", 47).attr("fill", "black").text(p.name + " (mm)");
});
for (let c = 0; c < 4; c++) {
  const cx = (colLeft4[c] + colRight[c]) / 2;
  ov.append("text").attr("x", cx).attr("y", 1914).attr("text-anchor", "middle")
    .attr("font-size", 48).attr("fill", "black").text("Time");
}
</script></body></html>
